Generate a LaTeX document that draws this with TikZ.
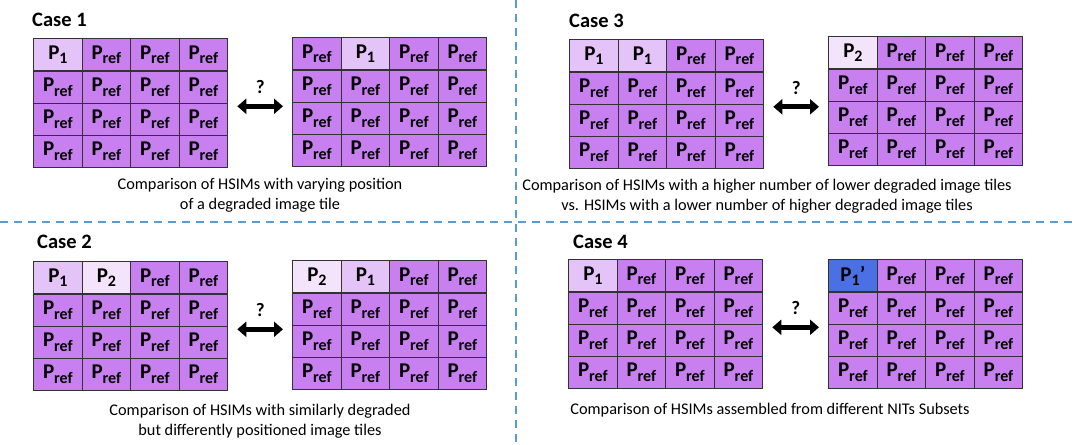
\documentclass[tikz,border=0pt]{standalone}
\usepackage{fontspec}
\setmainfont{Carlito}
\usetikzlibrary{arrows.meta,calc}
\definecolor{refpurple}{RGB}{200,128,240}
\definecolor{ponecol}{RGB}{228,196,248}
\definecolor{ptwocol}{RGB}{243,228,251}
\definecolor{pblue}{RGB}{74,112,228}
\definecolor{gridline}{RGB}{50,50,50}
\definecolor{divblue}{RGB}{91,155,213}
\newcommand\tsub[1]{\raisebox{-0.22em}{\fontsize{16}{16}\selectfont #1}}
\newcommand\txtr{P\tsub{ref}}
\newcommand\txta{P\tsub{1}}
\newcommand\txtb{P\tsub{2}}
\newcommand\txtc{P\tsub{1}\kern0.3pt’}
\tikzset{
  tilebox/.style={draw=gridline, line width=1.3pt, minimum width=48.5pt, minimum height=32.25pt,
    inner sep=0pt, anchor=north west, font=\bfseries\fontsize{21}{21}\selectfont},
  tile r/.style={fill=refpurple},
  tile a/.style={fill=ponecol},
  tile b/.style={fill=ptwocol},
  tile c/.style={fill=pblue},
  casetitle/.style={anchor=west, inner sep=0pt, font=\bfseries\fontsize{20.5}{21}\selectfont},
  caption/.style={align=center, inner sep=0pt, font=\fontsize{16.3}{20.5}\selectfont},
  bigarrow/.style={line width=5pt, {Triangle[length=9pt,width=15pt]}-{Triangle[length=9pt,width=15pt]}},
  qmark/.style={inner sep=0pt, font=\bfseries\fontsize{19}{19}\selectfont},
  divider/.style={draw=divblue, line width=1.8pt, dash pattern=on 8pt off 6pt}
}
\newcommand\hsimgrid[4]{%
  \foreach \t [count=\i from 0] in {#4} {
    \pgfmathtruncatemacro\cc{mod(\i,4)}
    \pgfmathtruncatemacro\rr{\i/4}
    \node[tilebox, tile \t] (#1-\i) at ({#2+\cc*48.5},{#3+\rr*32.25}) {\csname txt\t\endcsname};
  }%
}
\begin{document}
\begin{tikzpicture}[x=1pt,y=-1pt]
\useasboundingbox[fill=white] (0,0) rectangle (1075,444);
% dividers
\draw[divider] (516,0) -- (516,444);
\draw[divider] (0,222) -- (1075,222);
% Case 1
\node[casetitle] (t1) at (32,20) {Case 1};
\hsimgrid{c1l}{33}{38}{a,r,r,r,r,r,r,r,r,r,r,r,r,r,r,r}
\hsimgrid{c1r}{292}{37}{r,a,r,r,r,r,r,r,r,r,r,r,r,r,r,r}
\coordinate (c1p) at ($(c1l-7.south east)+(9,2.5)$);
\coordinate (c1q) at ($(c1r-4.south west)+(-9,3.5)$);
\draw[bigarrow] (c1p) -- (c1q) node[qmark, midway, above=10pt] (q1) {?};
\node[caption] (cap1) at (260,195) {Comparison of HSIMs with varying position\\of a degraded image tile};
% Case 3
\node[casetitle] (t3) at (569,20.5) {Case 3};
\hsimgrid{c3l}{569}{39}{a,a,r,r,r,r,r,r,r,r,r,r,r,r,r,r}
\hsimgrid{c3r}{828}{36}{b,r,r,r,r,r,r,r,r,r,r,r,r,r,r,r}
\coordinate (c3p) at ($(c3l-7.south east)+(9,2)$);
\coordinate (c3q) at ($(c3r-4.south west)+(-9,5)$);
\draw[bigarrow] (c3p) -- (c3q) node[qmark, midway, above=10pt] (q3) {?};
\node[caption] (cap3) at (767,196) {Comparison of HSIMs with a higher number of lower degraded image tiles\\vs. HSIMs with a lower number of higher degraded image tiles};
% Case 2
\node[casetitle] (t2) at (37,242) {Case 2};
\hsimgrid{c2l}{33}{261}{a,b,r,r,r,r,r,r,r,r,r,r,r,r,r,r}
\hsimgrid{c2r}{292}{260}{b,a,r,r,r,r,r,r,r,r,r,r,r,r,r,r}
\coordinate (c2p) at ($(c2l-7.south east)+(9,2.5)$);
\coordinate (c2q) at ($(c2r-4.south west)+(-9,3.5)$);
\draw[bigarrow] (c2p) -- (c2q) node[qmark, midway, above=10pt] (q2) {?};
\node[caption] (cap2) at (260,421) {Comparison of HSIMs with similarly degraded\\but differently positioned image tiles};
% Case 4
\node[casetitle] (t4) at (573,242) {Case 4};
\hsimgrid{c4l}{568}{259}{a,r,r,r,r,r,r,r,r,r,r,r,r,r,r,r}
\hsimgrid{c4r}{828}{259}{c,r,r,r,r,r,r,r,r,r,r,r,r,r,r,r}
\coordinate (c4p) at ($(c4l-7.south east)+(9,2.5)$);
\coordinate (c4q) at ($(c4r-4.south west)+(-9,2.5)$);
\draw[bigarrow] (c4p) -- (c4q) node[qmark, midway, above=10pt] (q4) {?};
\node[caption] (cap4) at (770,410) {Comparison of HSIMs assembled from different NITs Subsets};
\end{tikzpicture}
\end{document}
